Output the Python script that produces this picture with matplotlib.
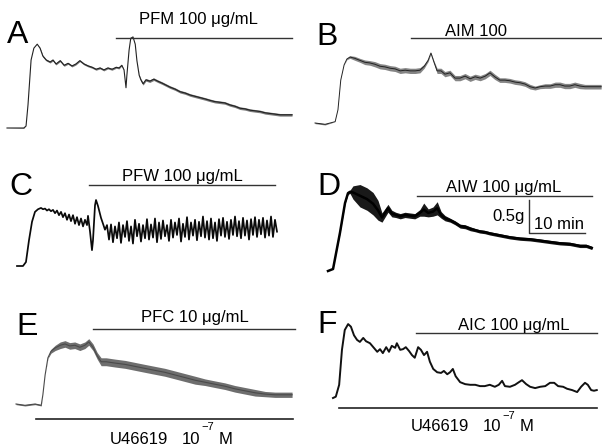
import numpy as np
import matplotlib
matplotlib.use('Agg')
import matplotlib.pyplot as plt

plt.rcParams['font.family'] = ['Liberation Sans', 'DejaVu Sans']

W, H = 602, 447
PX_PER_MIN = 5.6   # horizontal scale of the recordings
PX_PER_G = 66.0    # vertical scale of the recordings

# each row: time (min), tension (g), noise half-width (g)
trace_a = [
    (0, 0, 0), (3.0, 0, 0.005), (3.4, 0.03, 0), (3.75, 0.35, 0), (4.3, 1.03, 0),
    (4.8, 1.21, 0), (5.4, 1.27, 0), (5.9, 1.21, 0.01), (6.4, 1.09, 0.015), (7.0, 1.03, 0.015),
    (7.7, 1.0, 0.015), (8.2, 1.03, 0.015), (8.75, 0.97, 0.015), (9.5, 1.02, 0.015), (10.2, 0.95, 0.015),
    (10.9, 0.98, 0.015), (11.6, 0.94, 0.015), (12.3, 0.97, 0.015), (13.0, 1.02, 0.015), (13.75, 0.97, 0.015),
    (14.5, 0.94, 0.015), (15.2, 0.92, 0.015), (15.9, 0.89, 0.015), (16.6, 0.91, 0.015), (17.3, 0.88, 0.015),
    (18.0, 0.91, 0.015), (18.75, 0.89, 0.015), (19.5, 0.92, 0.015), (20.0, 0.91, 0.015), (20.5, 0.95, 0.01),
    (20.9, 0.88, 0), (21.25, 0.61, 0), (21.4, 0.79, 0), (21.8, 1.18, 0), (22.1, 1.36, 0),
    (22.5, 1.38, 0), (22.9, 1.27, 0), (23.2, 1.02, 0), (23.6, 0.8, 0.01), (23.9, 0.73, 0.02),
    (24.3, 0.67, 0.02), (24.8, 0.73, 0.02), (25.5, 0.71, 0.02), (26.2, 0.74, 0.02), (26.9, 0.71, 0.02),
    (27.7, 0.68, 0.02), (28.4, 0.65, 0.02), (29.1, 0.62, 0.02), (30.0, 0.59, 0.02), (30.9, 0.55, 0.02),
    (31.8, 0.53, 0.02), (32.7, 0.5, 0.02), (33.6, 0.48, 0.02), (34.5, 0.46, 0.02), (35.4, 0.44, 0.02),
    (36.2, 0.42, 0.02), (37.1, 0.4, 0.02), (38.0, 0.39, 0.02), (38.9, 0.38, 0.02), (39.8, 0.35, 0.02),
    (40.7, 0.33, 0.02), (41.6, 0.3, 0.02), (42.5, 0.29, 0.02), (43.4, 0.27, 0.02), (44.3, 0.26, 0.02),
    (45.2, 0.25, 0.02), (46.1, 0.23, 0.02), (47.0, 0.22, 0.02), (47.9, 0.21, 0.02), (48.75, 0.2, 0.02),
    (49.6, 0.2, 0.02), (50.9, 0.2, 0.02),
]

trace_b = [
    (0, 0, 0.01), (1.8, -0.02, 0.01), (3.6, 0.02, 0), (4.1, 0.2, 0), (4.6, 0.65, 0),
    (5.2, 0.88, 0), (5.7, 0.97, 0.01), (6.25, 1.0, 0.02), (7.1, 0.98, 0.03), (8.0, 0.95, 0.03),
    (8.9, 0.92, 0.035), (9.8, 0.91, 0.035), (10.7, 0.89, 0.04), (11.6, 0.86, 0.04), (12.5, 0.85, 0.04),
    (13.4, 0.83, 0.04), (14.3, 0.82, 0.04), (15.2, 0.79, 0.04), (16.1, 0.8, 0.04), (17.0, 0.79, 0.04),
    (17.9, 0.79, 0.04), (18.75, 0.8, 0.04), (19.5, 0.86, 0.03), (20.2, 0.95, 0.02), (20.7, 1.06, 0.01),
    (21.25, 0.92, 0.02), (21.8, 0.79, 0.04), (22.5, 0.79, 0.04), (23.2, 0.74, 0.04), (24.1, 0.76, 0.04),
    (25.0, 0.68, 0.04), (25.9, 0.68, 0.04), (26.8, 0.71, 0.04), (27.7, 0.67, 0.04), (28.6, 0.7, 0.04),
    (29.5, 0.68, 0.04), (30.4, 0.71, 0.04), (31.25, 0.76, 0.04), (32.1, 0.7, 0.04), (33.0, 0.65, 0.035),
    (33.9, 0.65, 0.035), (34.8, 0.64, 0.035), (35.7, 0.62, 0.035), (36.6, 0.61, 0.035), (37.5, 0.59, 0.035),
    (38.4, 0.55, 0.035), (39.3, 0.53, 0.03), (40.2, 0.55, 0.03), (41.1, 0.56, 0.035), (42.0, 0.56, 0.035),
    (42.9, 0.58, 0.04), (43.75, 0.58, 0.04), (44.6, 0.56, 0.04), (45.5, 0.56, 0.04), (46.4, 0.58, 0.04),
    (47.3, 0.56, 0.04), (48.2, 0.55, 0.035), (49.1, 0.55, 0.035), (50.0, 0.55, 0.035), (51.1, 0.55, 0.035),
]

# panel C is very noisy: rows are the peaks and troughs
trace_c = [
    (0, 0), (1.07, 0), (1.6, 0.06), (2.14, 0.39), (2.68, 0.67), (3.21, 0.82), (3.75, 0.86),
    (4.29, 0.88), (4.64, 0.86), (5.0, 0.87), (5.36, 0.84), (5.71, 0.86), (6.07, 0.83), (6.43, 0.85),
    (6.79, 0.8), (7.14, 0.84), (7.5, 0.77), (7.86, 0.82), (8.21, 0.74), (8.57, 0.8), (8.93, 0.7),
    (9.29, 0.78), (9.64, 0.68), (10.0, 0.77), (10.36, 0.64), (10.71, 0.74), (11.07, 0.62), (11.43, 0.72),
    (11.79, 0.6), (12.14, 0.7), (12.5, 0.62), (12.68, 0.76), (13.04, 0.52), (13.39, 0.24), (13.57, 0.39),
    (13.93, 0.92), (14.11, 1.0), (14.46, 0.91), (15.0, 0.73), (15.36, 0.64), (15.71, 0.55),
    (16.07, 0.62), (16.43, 0.4), (16.79, 0.63), (17.14, 0.36), (17.5, 0.6), (17.86, 0.42), (18.21, 0.66),
    (18.57, 0.35), (18.93, 0.62), (19.29, 0.44), (19.64, 0.68), (20.0, 0.38), (20.36, 0.6), (20.71, 0.34),
    (21.07, 0.7), (21.43, 0.45), (21.79, 0.64), (22.14, 0.37), (22.5, 0.62), (22.86, 0.42), (23.21, 0.71),
    (23.57, 0.4), (23.93, 0.63), (24.29, 0.43), (24.64, 0.72), (25.0, 0.36), (25.36, 0.66), (25.71, 0.41),
    (26.07, 0.69), (26.43, 0.45), (26.79, 0.62), (27.14, 0.38), (27.5, 0.7), (27.86, 0.43), (28.21, 0.66),
    (28.57, 0.47), (28.93, 0.72), (29.29, 0.37), (29.64, 0.64), (30.0, 0.44), (30.36, 0.74), (30.71, 0.4),
    (31.07, 0.66), (31.43, 0.46), (31.79, 0.7), (32.14, 0.39), (32.5, 0.67), (32.86, 0.45), (33.21, 0.75),
    (33.57, 0.43), (33.93, 0.68), (34.29, 0.4), (34.64, 0.72), (35.0, 0.42), (35.36, 0.66), (35.71, 0.38),
    (36.07, 0.71), (36.43, 0.46), (36.79, 0.73), (37.14, 0.44), (37.5, 0.67), (37.86, 0.41), (38.21, 0.7),
    (38.57, 0.47), (38.93, 0.75), (39.29, 0.45), (39.64, 0.68), (40.0, 0.42), (40.36, 0.73), (40.71, 0.46),
    (41.07, 0.69), (41.43, 0.4), (41.79, 0.71), (42.14, 0.47), (42.5, 0.74), (42.86, 0.44), (43.21, 0.7),
    (43.57, 0.48), (43.93, 0.73), (44.29, 0.43), (44.64, 0.69), (45.0, 0.46), (45.36, 0.75), (45.71, 0.44),
    (46.07, 0.7), (46.43, 0.52),
]

trace_d = [
    (0, 0, 0), (0.9, 0.03, 0), (2.14, 0.58, 0.01), (3.04, 1.03, 0.01), (3.57, 1.18, 0.02),
    (3.93, 1.2, 0.025), (4.46, 1.19, 0.1), (5.71, 1.14, 0.17), (6.96, 1.09, 0.17), (8.04, 1.02, 0.17),
    (8.93, 0.92, 0.15), (9.64, 0.81, 0.07), (10.71, 0.95, 0.06), (11.4, 0.87, 0.05), (12.1, 0.85, 0.04),
    (12.9, 0.83, 0.04), (13.75, 0.85, 0.04), (14.6, 0.84, 0.04), (15.5, 0.83, 0.04), (16.4, 0.88, 0.05),
    (17.1, 0.93, 0.1), (17.9, 0.88, 0.06), (18.75, 0.9, 0.07), (19.5, 0.95, 0.1), (20.2, 0.85, 0.05),
    (20.9, 0.8, 0.04), (21.8, 0.77, 0.03), (22.7, 0.73, 0.03), (23.6, 0.68, 0.03), (24.5, 0.67, 0.03),
    (25.4, 0.64, 0.03), (26.25, 0.62, 0.025), (27.1, 0.6, 0.025), (28.0, 0.59, 0.025), (28.9, 0.57, 0.025),
    (30.7, 0.54, 0.025), (32.5, 0.51, 0.025), (34.3, 0.49, 0.025), (36.1, 0.48, 0.025), (37.9, 0.46, 0.025),
    (39.6, 0.44, 0.025), (41.4, 0.42, 0.025), (43.2, 0.41, 0.025), (45.0, 0.38, 0.025), (46.1, 0.38, 0.025),
    (47.1, 0.35, 0.025),
]

trace_e = [
    (0, 0, 0.01), (1.6, -0.02, 0.01), (3.4, 0, 0.01), (4.5, -0.02, 0.01), (4.8, 0.14, 0),
    (5.2, 0.44, 0), (5.7, 0.7, 0.01), (6.25, 0.8, 0.03), (7.0, 0.85, 0.04), (7.9, 0.89, 0.05),
    (8.75, 0.91, 0.05), (9.6, 0.88, 0.05), (10.5, 0.89, 0.05), (11.4, 0.86, 0.05), (12.3, 0.89, 0.05),
    (13.0, 0.94, 0.05), (13.75, 0.86, 0.05), (14.5, 0.73, 0.05), (15.2, 0.64, 0.06), (16.1, 0.64, 0.06),
    (17.7, 0.62, 0.06), (19.5, 0.6, 0.06), (21.25, 0.57, 0.06), (23.0, 0.54, 0.06), (24.8, 0.51, 0.06),
    (26.6, 0.48, 0.06), (28.4, 0.44, 0.06), (30.2, 0.4, 0.06), (32.0, 0.36, 0.06), (33.75, 0.33, 0.05),
    (35.5, 0.3, 0.05), (37.3, 0.27, 0.05), (39.1, 0.23, 0.05), (40.9, 0.2, 0.05), (42.7, 0.17, 0.05),
    (44.5, 0.15, 0.04), (46.25, 0.14, 0.04), (48.0, 0.14, 0.04), (49.3, 0.14, 0.04),
]

trace_f = [
    (0, 0), (0.5, 0.02), (1.1, 0.2), (1.6, 0.73), (2.1, 1.03), (2.7, 1.12), (3.2, 1.08), (3.75, 0.95),
    (4.3, 0.88), (4.8, 0.85), (5.4, 0.91), (5.9, 0.86), (6.6, 0.83), (7.3, 0.76), (7.9, 0.7), (8.4, 0.74),
    (8.9, 0.68), (9.5, 0.77), (10.0, 0.7), (10.5, 0.79), (11.1, 0.76), (11.4, 0.83), (12.0, 0.73), (12.5, 0.74),
    (13.0, 0.77), (13.6, 0.71), (14.1, 0.65), (14.6, 0.61), (15.2, 0.77), (15.7, 0.73), (16.25, 0.65), (16.8, 0.7),
    (17.3, 0.55), (17.9, 0.44), (18.6, 0.39), (19.3, 0.38), (19.8, 0.41), (20.4, 0.36), (20.9, 0.39), (21.4, 0.44),
    (21.9, 0.33), (22.7, 0.24), (23.6, 0.21), (24.5, 0.2), (25.4, 0.2), (26.25, 0.18), (27.1, 0.18), (28.0, 0.2),
    (28.9, 0.17), (29.6, 0.2), (30.2, 0.26), (30.7, 0.18), (31.6, 0.17), (32.5, 0.2), (33.2, 0.24), (33.75, 0.27),
    (34.5, 0.21), (35.2, 0.17), (36.1, 0.15), (37.0, 0.17), (37.9, 0.18), (38.75, 0.23), (39.5, 0.23), (40.2, 0.18),
    (41.1, 0.17), (41.8, 0.14), (42.7, 0.12), (43.6, 0.09), (44.3, 0.17), (45.0, 0.23), (45.5, 0.2), (46.1, 0.12),
    (46.6, 0.11), (47.1, 0.12),
]

# drug application: label, start (min), end (min), bar level (g), label centre (min), label baseline (g)
drugs = {
    'A': ('PFM 100 \u03bcg/mL', 19.5, 50.9, 1.37, 34.1, 1.58),
    'B': ('AIM 100', 17.1, 51.25, 1.29, 28.75, 1.32),
    'C': ('PFW 100 \u03bcg/mL', 12.9, 46.1, 1.23, 29.5, 1.29),
    'D': ('AIW 100 \u03bcg/mL', 15.9, 47.1, 1.14, 31.4, 1.2),
    'E': ('PFC 10 \u03bcg/mL', 13.75, 49.8, 1.14, 32.0, 1.24),
    'F': ('AIC 100 \u03bcg/mL', 14.8, 47.1, 0.98, 32.3, 1.03),
}
# U46619 application bars under E and F: start, end (min), level (g)
u466_e = (3.6, 49.5, -0.23)
u466_f = (1.1, 47.1, -0.15)

fig = plt.figure(figsize=(W / 100, H / 100), dpi=100)


def panel(x0, y0):
    # axes spanning the whole figure, with the trace origin at pixel (x0, y0)
    ax = fig.add_axes([0, 0, 1, 1])
    ax.set_xlim(-x0 / PX_PER_MIN, (W - x0) / PX_PER_MIN)
    ax.set_ylim(-(H - y0) / PX_PER_G, y0 / PX_PER_G)
    ax.axis('off')
    ax.patch.set_alpha(0)
    return ax


def draw_trace(ax, rows, color, lw, band_alpha):
    d = np.array(rows, dtype=float)
    t, g = d[:, 0], d[:, 1]
    if d.shape[1] > 2:
        w = d[:, 2]
        ax.fill_between(t, g - w, g + w, color=color, alpha=band_alpha, lw=0)
    ax.plot(t, g, color=color, lw=lw, solid_joinstyle='round')


def drug_bar(ax, key):
    label, t1, t2, lev, tc, gt = drugs[key]
    ax.plot([t1, t2], [lev, lev], color='#333333', lw=1.0)
    ax.text(tc, gt, label, ha='center', va='baseline', fontsize=12)


def fig_text(x, y, s, **kw):
    fig.text(x / W, 1 - y / H, s, va='baseline', **kw)


panels = [
    ('A', trace_a, 7, 128, '#222222', 0.8, 0.6),
    ('B', trace_b, 315, 123, '#222222', 0.7, 0.55),
    ('C', trace_c, 17, 266, '#0a0a0a', 1.25, 0),
    ('D', trace_d, 328, 271, '#000000', 1.8, 0.9),
    ('E', trace_e, 16, 404, '#4a4a4a', 0.8, 0.8),
    ('F', trace_f, 333, 398, '#111111', 1.4, 0),
]
axes = {}
for key, rows, x0, y0, col, lw, alpha in panels:
    ax = panel(x0, y0)
    draw_trace(ax, rows, col, lw, alpha)
    axes[key] = ax
    drug_bar(ax, key)

# scale bar in panel D: 0.5 g, 10 min
axd = axes['D']
sb_t, sb_g = 35.9, 0.57
axd.plot([sb_t, sb_t, sb_t + 10], [sb_g + 0.5, sb_g, sb_g], color='#333333', lw=1.0)
axd.text(sb_t - 0.7, sb_g + 0.19, '0.5g', ha='right', va='baseline', fontsize=12)
axd.text(sb_t + 0.9, sb_g + 0.06, '10 min', ha='left', va='baseline', fontsize=12)

# U46619 bars
for key, (t1, t2, lev) in (('E', u466_e), ('F', u466_f)):
    axes[key].plot([t1, t2], [lev, lev], color='#222222', lw=1.2)

# panel letters
for key, x, y in [('A', 7, 43), ('B', 316, 45), ('C', 9, 195), ('D', 317, 195), ('E', 16, 335), ('F', 317, 333)]:
    fig_text(x, y, key, fontsize=23, ha='left')

# U46619 labels
for x, y, dy in [(110, 444, 14), (411, 431, 12)]:
    fig_text(x, y, 'U46619', fontsize=12, ha='left')
    fig_text(x + 72, y, '10', fontsize=12, ha='left')
    fig_text(x + 91, y - dy, '\u22127', fontsize=8, ha='left')
    fig_text(x + 109, y, 'M', fontsize=12, ha='left')

fig.savefig('out.png', dpi=100)
